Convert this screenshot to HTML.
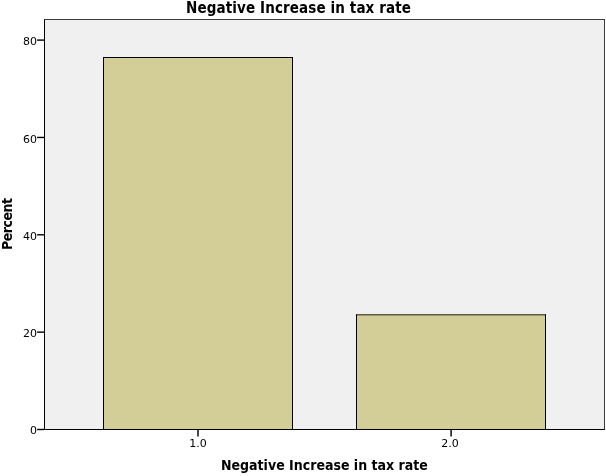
<!DOCTYPE html>
<html>
<head>
<meta charset="utf-8">
<title>Negative Increase in tax rate</title>
<style>
html,body{margin:0;padding:0;background:#fff;}
body{width:606px;height:476px;position:relative;overflow:hidden;font-family:"DejaVu Sans","Liberation Sans",sans-serif;color:#000;}
.abs{position:absolute;}
#plot{left:44px;top:19px;width:559px;height:409px;background:#f0f0f0;border:1px solid #000;border-top-color:#3c3c3c;border-right-color:#3c3c3c;box-sizing:content-box;}
.bar{background:#d3ce97;border:1px solid #000;box-sizing:border-box;}
.tick{background:#000;}
.yl{font-size:11px;line-height:12px;width:37px;text-align:right;left:0;}
.xl{font-size:11px;line-height:12px;width:40px;text-align:center;}
.ttl{font-family:"DejaVu Sans Condensed","DejaVu Sans","Liberation Sans",sans-serif;font-weight:bold;font-stretch:condensed;white-space:nowrap;transform-origin:0 0;}
</style>
</head>
<body>
<div class="abs" id="plot"></div>
<div class="abs bar" style="left:103px;top:57px;width:190px;height:373px;"></div>
<div class="abs bar" style="left:356px;top:314px;width:190px;height:116px;border-top-color:#5c5a42;box-shadow:inset 0 1px 0 rgba(0,0,0,0.28);"></div>


<svg class="abs" style="left:0;top:0;" width="606" height="476" viewBox="0 0 606 476">
<g stroke="#000" stroke-width="1.4" fill="none">
<line x1="37.1" x2="44" y1="40.1" y2="40.1"/>
<line x1="37.1" x2="44" y1="137.45" y2="137.45"/>
<line x1="37.1" x2="44" y1="234.8" y2="234.8"/>
<line x1="37.1" x2="44" y1="332.15" y2="332.15"/>
<line x1="37.1" x2="44" y1="429.5" y2="429.5"/>
<line x1="198" x2="198" y1="430" y2="436.5" stroke-width="1.45"/>
<line x1="451.1" x2="451.1" y1="430" y2="436.5" stroke-width="1.45"/>
</g>
</svg>
<div class="abs yl" style="top:36px;">80</div>
<div class="abs yl" style="top:134px;">60</div>
<div class="abs yl" style="top:231px;">40</div>
<div class="abs yl" style="top:328px;">20</div>
<div class="abs yl" style="top:425px;">0</div>

<div class="abs xl" style="left:178px;top:438px;">1.0</div>
<div class="abs xl" style="left:430px;top:438px;">2.0</div>

<div class="abs ttl" id="title" style="left:186px;top:-1px;letter-spacing:0.12px;font-size:15px;line-height:18px;">Negative Increase in tax rate</div>
<div class="abs ttl" id="xtitle" style="left:221px;top:456px;font-size:14px;line-height:18px;">Negative Increase in tax rate</div>
<div class="abs ttl" id="ytitle" style="left:0px;top:250px;font-size:14px;line-height:14px;letter-spacing:-0.5px;transform:rotate(-90deg);">Percent</div>
</body>
</html>
